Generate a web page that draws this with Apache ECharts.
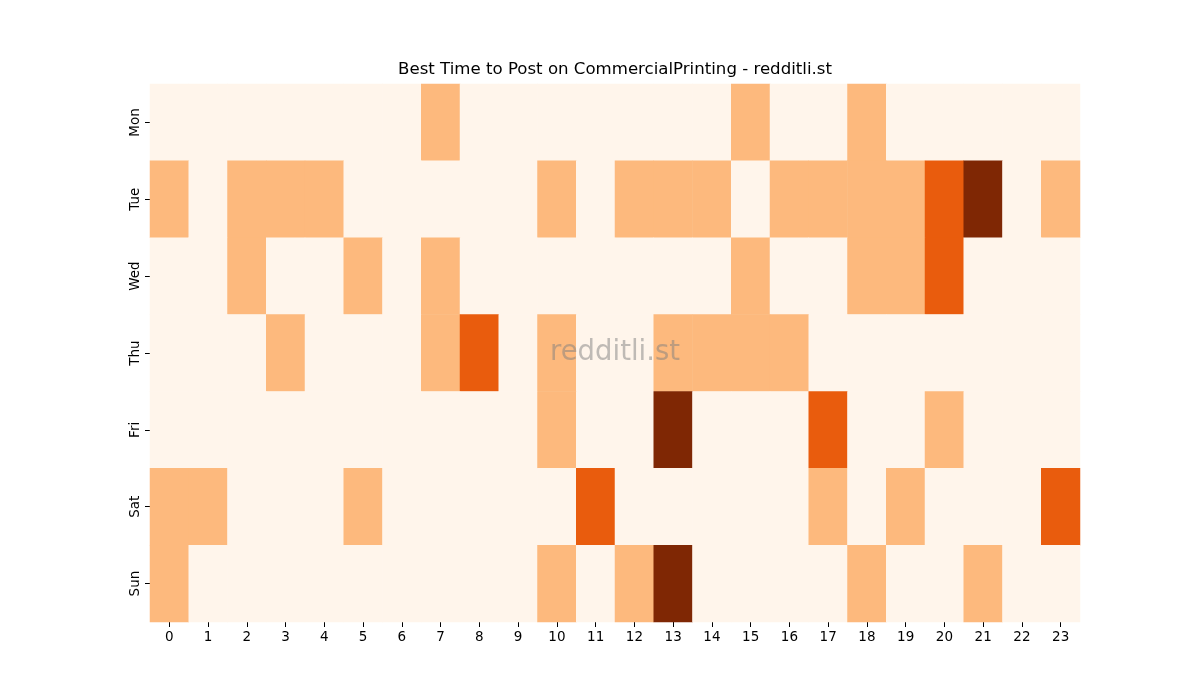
<!DOCTYPE html>
<html>
<head>
<meta charset="utf-8">
<script src="https://cdn.jsdelivr.net/npm/echarts@6/dist/echarts.min.js"></script>
<style>
  html, body { margin: 0; padding: 0; background: #fff; }
  #chart { width: 1200px; height: 700px; }
</style>
</head>
<body>
<div id="chart"></div>
<script>
// hours along the bottom, days down the side
const hours = ['0','1','2','3','4','5','6','7','8','9','10','11','12','13','14','15','16','17','18','19','20','21','22','23'];
const days = ['Mon', 'Tue', 'Wed', 'Thu', 'Fri', 'Sat', 'Sun'];

// one row per day, value per hour
const mon = [0,0,0,0,0,0,0,1,0,0,0,0,0,0,0,1,0,0,1,0,0,0,0,0];
const tue = [1,0,1,1,1,0,0,0,0,0,1,0,1,1,1,0,1,1,1,1,2,3,0,1];
const wed = [0,0,1,0,0,1,0,1,0,0,0,0,0,0,0,1,0,0,1,1,2,0,0,0];
const thu = [0,0,0,1,0,0,0,1,2,0,1,0,0,1,1,1,1,0,0,0,0,0,0,0];
const fri = [0,0,0,0,0,0,0,0,0,0,1,0,0,3,0,0,0,2,0,0,1,0,0,0];
const sat = [1,1,0,0,0,1,0,0,0,0,0,2,0,0,0,0,0,1,0,1,0,0,0,2];
const sun = [1,0,0,0,0,0,0,0,0,0,1,0,1,3,0,0,0,0,1,0,0,1,0,0];

const rows = [mon, tue, wed, thu, fri, sat, sun];
const cells = [];
rows.forEach((row, d) => {
  row.forEach((v, h) => cells.push([h, d, v]));
});

const chart = echarts.init(document.getElementById('chart'));

chart.setOption({
  animation: false,
  textStyle: { fontFamily: 'DejaVu Sans' },
  grid: { left: 150, right: 120, top: 84, bottom: 78 },
  xAxis: {
    type: 'category',
    data: hours,
    axisLine: { show: false },
    axisTick: { show: true, alignWithLabel: true, length: 5, lineStyle: { color: '#000' } },
    axisLabel: { color: '#000', fontSize: 13.5, margin: 8, interval: 0 },
    splitLine: { show: false }
  },
  yAxis: {
    type: 'category',
    data: days,
    inverse: true,
    axisLine: { show: false },
    axisTick: { show: true, alignWithLabel: true, length: 5, lineStyle: { color: '#000' } },
    axisLabel: { color: '#000', fontSize: 13.5, rotate: 90, margin: 8 },
    splitLine: { show: false }
  },
  visualMap: {
    show: false,
    type: 'piecewise',
    dimension: 2,
    pieces: [
      { value: 0, color: '#fff5eb' },
      { value: 1, color: '#fdb97d' },
      { value: 2, color: '#e95c0d' },
      { value: 3, color: '#7f2704' }
    ]
  },
  series: [{
    type: 'heatmap',
    data: cells,
    itemStyle: { borderWidth: 0 },
    emphasis: { disabled: true }
  }],
  graphic: [{
    type: 'text',
    x: 615,
    y: 70,
    z: 100,
    style: {
      text: 'Best Time to Post on CommercialPrinting - redditli.st',
      textAlign: 'center',
      textVerticalAlign: 'middle',
      fontSize: 16.6,
      fontFamily: 'DejaVu Sans',
      fill: '#000'
    }
  }, {
    type: 'text',
    x: 615,
    y: 353,
    z: 100,
    style: {
      text: 'redditli.st',
      textAlign: 'center',
      textVerticalAlign: 'middle',
      fontSize: 27.5,
      fontFamily: 'DejaVu Sans',
      fill: 'rgba(128,128,128,0.5)'
    }
  }]
});
</script>
</body>
</html>
